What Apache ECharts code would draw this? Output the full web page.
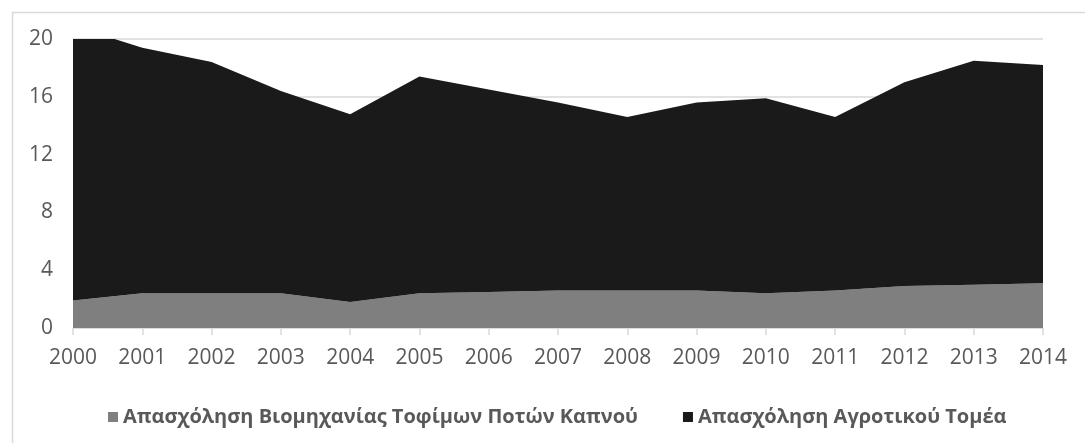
<!DOCTYPE html>
<html>
<head>
<meta charset="utf-8">
<script src="https://cdn.jsdelivr.net/npm/echarts@6/dist/echarts.min.js"></script>
<style>
  html, body { margin: 0; padding: 0; background: #fff; }
  #chart { width: 1085px; height: 443px; }
</style>
</head>
<body>
<div id="chart"></div>
<script>
// years on the x axis
var years = ['2000', '2001', '2002', '2003', '2004', '2005', '2006', '2007',
  '2008', '2009', '2010', '2011', '2012', '2013', '2014'];
// food, drinks, tobacco industry employment (bottom, gray)
var foodIndustry = [1.9, 2.4, 2.4, 2.4, 1.8, 2.4, 2.5, 2.6, 2.6, 2.6, 2.4, 2.6, 2.9, 3.0, 3.1];
// agricultural sector employment (stacked on top, black)
var agriculture = [19.0, 17.0, 16.0, 14.0, 13.0, 15.0, 14.0, 13.0, 12.0, 13.0, 13.5, 12.0, 14.1, 15.5, 15.1];
var seriesNames = ['Απασχόληση Βιομηχανίας Τοφίμων Ποτών Καπνού', 'Απασχόληση Αγροτικού Τομέα'];

var chart = echarts.init(document.getElementById('chart'));
var font = '"Open Sans", "Noto Sans", sans-serif';
var option = {
  animation: false,
  color: ['#7f7f7f', '#1a1a1a'],
  graphic: [{
    type: 'rect',
    left: 10, top: 10,
    shape: { width: 1100, height: 460 },
    style: { fill: 'none', stroke: '#d9d9d9', lineWidth: 1.5 },
    silent: true
  }],
  grid: { left: 73, right: 42, top: 39, bottom: 115 },
  legend: {
    left: 103,
    top: 402,
    icon: 'rect',
    itemWidth: 10,
    itemHeight: 10,
    itemGap: 45,
    textStyle: { color: '#595959', fontSize: 20, fontWeight: 'bold', fontFamily: font },
    data: seriesNames
  },
  xAxis: {
    type: 'category',
    data: years,
    boundaryGap: false,
    axisLine: { lineStyle: { color: '#d9d9d9', width: 1.5 } },
    axisTick: { length: 7, lineStyle: { color: '#d9d9d9', width: 1.5 } },
    axisLabel: { color: '#595959', fontSize: 21, fontFamily: font, margin: 20 }
  },
  yAxis: {
    type: 'value',
    min: 0, max: 20, interval: 4,
    axisLine: { show: false },
    axisTick: { show: false },
    splitLine: { lineStyle: { color: '#d9d9d9', width: 1.5 } },
    axisLabel: { color: '#595959', fontSize: 21, fontFamily: font, margin: 20 }
  },
  series: [{
    name: seriesNames[0],
    type: 'line',
    stack: 'total',
    data: foodIndustry,
    symbol: 'none',
    lineStyle: { width: 0 },
    areaStyle: { color: '#7f7f7f', opacity: 1 },
    clip: true
  }, {
    name: seriesNames[1],
    type: 'line',
    stack: 'total',
    data: agriculture,
    symbol: 'none',
    lineStyle: { width: 0 },
    areaStyle: { color: '#1a1a1a', opacity: 1 },
    clip: true
  }]
};
chart.setOption(option);
</script>
</body>
</html>
